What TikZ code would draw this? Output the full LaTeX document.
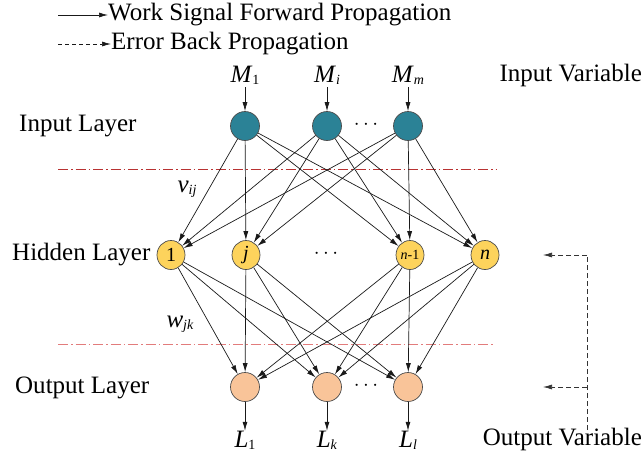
\documentclass[tikz,border=0pt]{standalone}
\usepackage{fontspec}
\setmainfont{Liberation Serif}
\usetikzlibrary{arrows.meta,shapes.geometric}
\definecolor{inC}{HTML}{2B8296}
\definecolor{hidC}{HTML}{FDD35C}
\definecolor{outC}{HTML}{F9C499}
\definecolor{lineA}{HTML}{B83232}
\definecolor{lineB}{HTML}{E27C7C}
\newcommand\mysub[1]{\raisebox{-0.15ex}{\fontsize{14}{14}\selectfont #1}}
\tikzset{
  big/.style={font=\fontsize{25}{28}\selectfont, inner sep=0pt},
  inode/.style={circle, draw=black!70, line width=0.7pt, fill=inC, minimum size=29pt, inner sep=0pt},
  hnode/.style={ellipse, draw=black!70, line width=0.7pt, fill=hidC, minimum width=28pt, minimum height=29pt, inner sep=0pt, font=\fontsize{20}{20}\selectfont},
  onode/.style={circle, draw=black!70, line width=0.7pt, fill=outC, minimum size=29pt, inner sep=0pt},
  edge/.style={-{Latex[length=9pt,width=5pt]}, line width=0.7pt, black!90},
  fb/.style={-{Latex[length=9pt,width=5pt]}, line width=0.7pt, dashed, dash pattern=on 5pt off 3pt, black!80},
  sep/.style={line width=0.8pt, dash pattern=on 10pt off 3pt on 1.5pt off 3pt},
  dots/.style={font=\fontsize{20}{20}\selectfont, inner sep=0pt}
}
\begin{document}
\begin{tikzpicture}[x=1pt,y=-1pt]
\useasboundingbox (0,0) rectangle (644,456);
% legend
\coordinate (la) at (58,15);
\node[big, anchor=west] (lt1) at (108,15) {Work Signal Forward Propagation};
\draw[edge] (la) -- (lt1.west);
\coordinate (lb) at (58,44);
\node[big, anchor=west] (lt2) at (111,44) {Error Back Propagation};
\draw[edge, dashed, dash pattern=on 4pt off 3pt] (lb) -- (lt2.west);
% labels
\node[big, anchor=west] (tin) at (19,126) {Input Layer};
\node[big, anchor=west] (thid) at (12,255) {Hidden Layer};
\node[big, anchor=west] (tout) at (15,388) {Output Layer};
\node[big, anchor=east] (tiv) at (642,75) {Input Variable};
\node[big, anchor=east] (tov) at (642,439) {Output Variable};
% input layer
\node[inode] (I1) at (245,126) {};
\node[inode] (Ii) at (327,126) {};
\node[inode] (Im) at (408,126) {};
\node[dots] (d1) at (366,125) {$\cdots$};
\node[big] (M1) at (245,75) {\textit{M}\mysub{1}};
\node[big] (Mi) at (327,75) {\textit{M}\mysub{\textit{i}}};
\node[big] (Mm) at (408,75) {\textit{M}\mysub{\textit{m}}};
\draw[edge] (M1.south) ++(0,3) -- (I1);
\draw[edge] (Mi.south) ++(0,3) -- (Ii);
\draw[edge] (Mm.south) ++(0,3) -- (Im);
% hidden layer
\node[hnode] (H1) at (171,255) {1};
\node[hnode] (Hj) at (246,255) {\textit{j}};
\node[hnode, font=\fontsize{14}{14}\selectfont] (Hn1) at (410,255) {\textit{n}-1};
\node[hnode, font=\fontsize{20}{20}\selectfont] (Hn) at (485,255) {\textit{n}};
\node[dots] (d2) at (326,254) {$\cdots$};
% output layer
\node[onode] (O1) at (245,387) {};
\node[onode] (Ok) at (327,387) {};
\node[onode] (Ol) at (408,387) {};
\node[dots] (d3) at (366,386) {$\cdots$};
\node[big] (L1) at (245,440) {\textit{L}\mysub{1}};
\node[big] (Lk) at (327,440) {\textit{L}\mysub{\textit{k}}};
\node[big] (Ll) at (408,440) {\textit{L}\mysub{\textit{l}}};
\draw[edge] (O1) -- (L1.north);
\draw[edge] (Ok) -- (Lk.north);
\draw[edge] (Ol) -- (Ll.north);
% separators
\coordinate (s1a) at (58,169); \coordinate (s1b) at (497,169);
\draw[sep, lineA] (s1a) -- (s1b);
\coordinate (s2a) at (58,344); \coordinate (s2b) at (493,344);
\draw[sep, lineB] (s2a) -- (s2b);
\node[big] (v) at (187,189) {\textit{v}\mysub{\textit{ij}}};
\node[big] (w) at (180,324) {\textit{w}\mysub{\textit{jk}}};
% connections
\foreach \a in {I1,Ii,Im}
  \foreach \b in {H1,Hj,Hn1,Hn}
    \draw[edge] (\a) -- (\b);
\foreach \a in {H1,Hj,Hn1,Hn}
  \foreach \b in {O1,Ok,Ol}
    \draw[edge] (\a) -- (\b);
% feedback
\coordinate (fa) at (587,255);
\coordinate (fb1) at (543,255);
\coordinate (fc) at (587,387);
\coordinate (fd) at (543,387);
\coordinate (fe) at (587,430);
\draw[dashed, dash pattern=on 5pt off 3pt, line width=0.7pt, black!80] (fe) -- (fa);
\draw[fb] (fa) -- (fb1);
\draw[fb] (fc) -- (fd);
\end{tikzpicture}
\end{document}
